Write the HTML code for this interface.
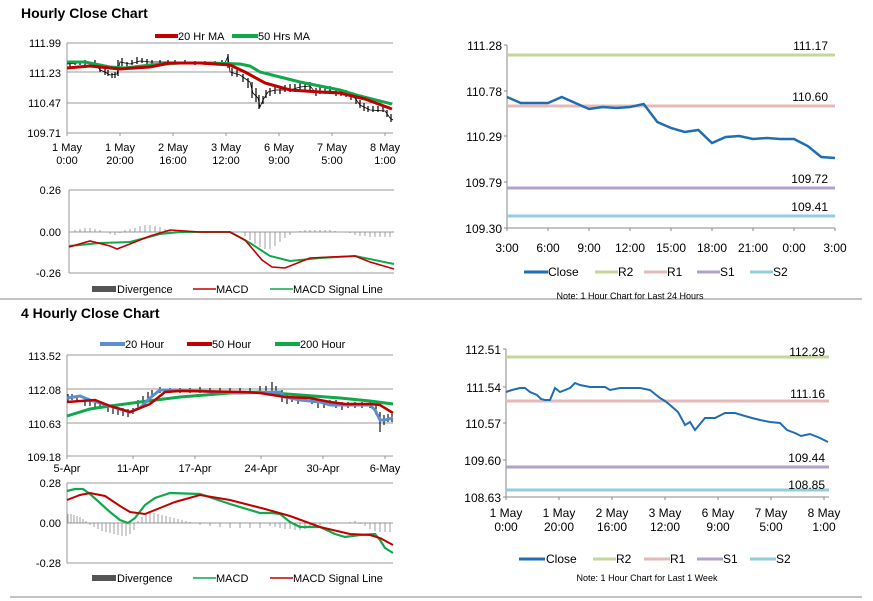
<!DOCTYPE html>
<html><head><meta charset="utf-8"><style>
html,body{margin:0;padding:0;background:#fff}
svg{display:block;font-family:"Liberation Sans",Arial,sans-serif}
</style></head><body>
<svg width="873" height="601" viewBox="0 0 873 601" xmlns="http://www.w3.org/2000/svg">
<g font-size="11" fill="#000">
<text x="21" y="18" font-size="14" font-weight="bold">Hourly Close Chart</text>
<text x="21" y="318" font-size="14" font-weight="bold">4 Hourly Close Chart</text>
<line x1="0" y1="299" x2="862" y2="299" stroke="#888" stroke-width="1"/>
<line x1="10" y1="597" x2="862" y2="597" stroke="#888" stroke-width="1"/>

<!-- ===== Top-left price ===== -->
<g stroke="#999" stroke-width="1">
<line x1="67" y1="43" x2="393" y2="43"/><line x1="67" y1="72" x2="393" y2="72"/><line x1="67" y1="103" x2="393" y2="103"/><line x1="67" y1="133" x2="393" y2="133"/>
<line x1="67" y1="43" x2="67" y2="136"/>
<line x1="120" y1="133" x2="120" y2="136"/><line x1="173" y1="133" x2="173" y2="136"/><line x1="226" y1="133" x2="226" y2="136"/><line x1="279" y1="133" x2="279" y2="136"/><line x1="332" y1="133" x2="332" y2="136"/><line x1="385" y1="133" x2="385" y2="136"/>
</g>
<g text-anchor="end"><text x="61" y="47">111.99</text><text x="61" y="77">111.23</text><text x="61" y="107">110.47</text><text x="61" y="137">109.71</text></g>
<g text-anchor="middle"><text x="67" y="151">1 May</text><text x="67" y="164">0:00</text><text x="120" y="151">1 May</text><text x="120" y="164">20:00</text><text x="173" y="151">2 May</text><text x="173" y="164">16:00</text><text x="226" y="151">3 May</text><text x="226" y="164">12:00</text><text x="279" y="151">6 May</text><text x="279" y="164">9:00</text><text x="332" y="151">7 May</text><text x="332" y="164">5:00</text><text x="385" y="151">8 May</text><text x="385" y="164">1:00</text></g>
<polyline fill="none" stroke="#000" stroke-width="0.8" points="67,64 80,63 95,63 100,70 105,72 110,75 117,74 120,62 130,64 140,61 150,62 165,62 180,62 200,63 225,63 228,56 230,72 240,75 250,82 253,93 258,98 260,107 263,100 268,92 275,90 290,90 300,87 310,86 315,92 330,91 345,93 355,98 360,105 370,110 385,111 390,118 393,120"/>
<path stroke="#000" stroke-width="1.2" d="M70 62v5M75 61v4M80 61v4M85 60v5M95 60v5M100 66v6M105 68v7M108 70v6M112 73v5M115 72v6M118 60v16M122 58v8M127 62v5M132 60v5M137 57v7M142 58v5M147 59v5M152 60v4M160 60v5M168 60v4M175 60v4M185 60v4M195 61v4M205 61v4M215 61v4M222 60v4M228 54v14M232 68v8M237 70v7M243 74v8M248 78v10M252 82v16M256 88v14M259 95v14M263 96v8M266 90v8M270 88v8M275 86v8M280 86v8M285 85v7M290 84v8M295 84v8M300 83v8M305 83v7M310 82v8M316 88v8M320 86v8M325 86v8M330 86v8M336 88v8M341 89v7M346 90v7M351 92v8M356 96v8M360 100v8M364 103v8M368 106v6M373 106v6M378 106v6M383 106v6M387 110v7M391 114v8"/>
<polyline fill="none" stroke="#0fa84a" stroke-width="3" points="67,62 85,62 110,67 125,68 150,65 180,63 210,63 240,64 250,66 260,72 300,82 340,90 360,96 392,104"/>
<polyline fill="none" stroke="#c00000" stroke-width="3" points="67,68 90,66 120,69 150,67 170,63 200,63 230,65 245,72 265,83 290,90 320,92 340,93 365,99 392,109"/>
<line x1="155" y1="36" x2="178" y2="36" stroke="#c00000" stroke-width="4"/><text x="178" y="40">20 Hr MA</text>
<line x1="232" y1="36" x2="258" y2="36" stroke="#0fa84a" stroke-width="4"/><text x="258" y="40">50 Hrs MA</text>

<!-- top-left MACD -->
<g stroke="#999" stroke-width="1"><line x1="69" y1="190" x2="394" y2="190"/><line x1="69" y1="273" x2="394" y2="273"/><line x1="69" y1="190" x2="69" y2="273"/><line x1="69" y1="232" x2="394" y2="232"/></g>
<g text-anchor="end"><text x="61" y="194">0.26</text><text x="61" y="236">0.00</text><text x="61" y="277">-0.26</text></g>
<g stroke="#888" stroke-width="0.8">
<path d="M75 232v-2M80 232v-3M85 232v-4M90 232v-4M95 232v-3M100 232v-2M110 232v2M115 232v3M120 232v1M125 232v-2M130 232v-3M135 232v-4M140 232v-6M145 232v-7M150 232v-7M155 232v-6M160 232v-5M165 232v-3M170 232v-2M175 232v-1M245 232v4M250 232v8M255 232v12M260 232v15M265 232v17M270 232v17M275 232v14M280 232v10M285 232v6M290 232v3M300 232v-1M305 232v-2M310 232v-2M315 232v-2M320 232v-2M325 232v-2M330 232v-2M335 232v-1M350 232v1M355 232v3M360 232v4M365 232v4M370 232v5M375 232v5M380 232v5M385 232v5M390 232v5"/>
</g>
<polyline fill="none" stroke="#0fa84a" stroke-width="2" points="69,246 100,243 130,242 160,234 180,232 230,232 250,243 270,256 290,261 320,258 355,256 394,264"/>
<polyline fill="none" stroke="#c00000" stroke-width="1.6" points="69,247 90,241 110,246 117,249 130,244 150,236 170,230 200,232 230,232 245,240 262,260 272,267 285,268 300,262 310,258 330,257 355,256 370,262 394,269"/>
<rect x="92" y="286" width="24" height="6" fill="#555"/><text x="117" y="293">Divergence</text>
<line x1="193" y1="289" x2="216" y2="289" stroke="#c00000" stroke-width="1.5"/><text x="216" y="293">MACD</text>
<line x1="270" y1="289" x2="293" y2="289" stroke="#0fa84a" stroke-width="1.5"/><text x="293" y="293">MACD Signal Line</text>

<!-- ===== Bottom-left price ===== -->
<g stroke="#999" stroke-width="1">
<line x1="67" y1="355" x2="393" y2="355"/><line x1="67" y1="389" x2="393" y2="389"/><line x1="67" y1="423" x2="393" y2="423"/><line x1="67" y1="456" x2="393" y2="456"/>
<line x1="67" y1="355" x2="67" y2="459"/>
<line x1="133" y1="456" x2="133" y2="459"/><line x1="195" y1="456" x2="195" y2="459"/><line x1="261" y1="456" x2="261" y2="459"/><line x1="323" y1="456" x2="323" y2="459"/><line x1="385" y1="456" x2="385" y2="459"/>
</g>
<g text-anchor="end"><text x="61" y="360">113.52</text><text x="61" y="394">112.08</text><text x="61" y="428">110.63</text><text x="61" y="461">109.18</text></g>
<g text-anchor="middle"><text x="67" y="472">5-Apr</text><text x="133" y="472">11-Apr</text><text x="195" y="472">17-Apr</text><text x="261" y="472">24-Apr</text><text x="323" y="472">30-Apr</text><text x="385" y="472">6-May</text></g>
<path stroke="#000" stroke-width="1.1" d="M68 394v8M72 394v6M77 396v6M85 398v8M90 400v6M95 401v6M100 402v6M108 404v8M113 406v8M118 407v8M123 408v8M128 409v8M133 408v6M138 400v10M143 396v8M148 392v8M152 390v6M160 387v6M170 388v5M180 388v5M190 388v5M200 387v6M210 388v5M220 388v5M230 388v5M240 388v5M250 388v5M260 386v6M266 386v6M272 382v10M276 386v10M282 390v12M287 394v10M292 396v6M298 396v8M305 396v6M312 398v6M318 400v8M324 400v8M330 400v6M336 400v8M342 402v8M348 402v6M355 402v6M362 402v6M370 402v6M376 405v10M380 412v20M384 415v10M388 414v8M392 414v8"/>
<polyline fill="none" stroke="#0fa84a" stroke-width="3" points="67,416 90,409 110,406 140,402 180,397 230,393 260,392 300,395 340,398 370,401 393,404"/>
<polyline fill="none" stroke="#5b8fcf" stroke-width="3" points="67,398 80,396 90,400 110,406 130,412 140,408 150,398 160,390 170,390 200,391 240,393 280,392 285,397 300,400 320,402 330,405 345,405 370,405 375,410 380,420 385,420 393,418"/>
<polyline fill="none" stroke="#c00000" stroke-width="2.5" points="67,402 95,400 110,406 130,412 150,404 165,392 180,391 245,392 260,393 285,397 310,398 330,402 345,404 370,404 380,405 393,413"/>
<line x1="100" y1="344" x2="125" y2="344" stroke="#5b8fcf" stroke-width="4"/><text x="125" y="348">20 Hour</text>
<line x1="187" y1="344" x2="212" y2="344" stroke="#c00000" stroke-width="4"/><text x="212" y="348">50 Hour</text>
<line x1="275" y1="344" x2="300" y2="344" stroke="#0fa84a" stroke-width="4"/><text x="300" y="348">200 Hour</text>

<!-- bottom-left MACD -->
<g stroke="#999" stroke-width="1"><line x1="67" y1="483" x2="393" y2="483"/><line x1="67" y1="563" x2="393" y2="563"/><line x1="67" y1="483" x2="67" y2="563"/><line x1="67" y1="523" x2="393" y2="523"/></g>
<g text-anchor="end"><text x="61" y="487">0.28</text><text x="61" y="527">0.00</text><text x="61" y="567">-0.28</text></g>
<g stroke="#888" stroke-width="0.8">
<path d="M68 523v-9M71 523v-9M74 523v-8M77 523v-7M80 523v-6M83 523v-4M86 523v-2M90 523v2M94 523v4M98 523v6M102 523v8M106 523v9M110 523v10M114 523v11M118 523v12M122 523v13M126 523v13M130 523v11M134 523v7M138 523v-2M142 523v-6M146 523v-9M150 523v-10M154 523v-10M158 523v-9M162 523v-8M166 523v-7M170 523v-6M174 523v-5M178 523v-4M182 523v-3M186 523v-2M190 523v-1M200 523v2M210 523v3M220 523v4M230 523v5M240 523v5M250 523v5M260 523v5M270 523v3M275 523v4M280 523v5M285 523v6M290 523v6M295 523v7M300 523v7M305 523v6M310 523v5M315 523v3M320 523v2M330 523v1M340 523v0M350 523v-1M355 523v-2M360 523v1M365 523v3M370 523v6M375 523v8M380 523v9M385 523v9M390 523v9"/>
</g>
<polyline fill="none" stroke="#0fa84a" stroke-width="2.2" points="67,491 75,489 83,489 90,494 100,503 110,512 120,520 128,523 135,518 145,505 155,498 170,493 200,494 230,504 260,513 272,513 280,514 290,522 300,527 320,527 335,534 345,537 360,535 375,534 380,540 385,548 393,553"/>
<polyline fill="none" stroke="#c00000" stroke-width="2" points="67,500 80,495 90,493 105,496 120,506 130,512 145,514 160,508 175,502 200,495 230,500 265,509 290,516 320,527 350,534 370,535 380,538 393,545"/>
<rect x="92" y="575" width="24" height="6" fill="#555"/><text x="117" y="582">Divergence</text>
<line x1="193" y1="578" x2="216" y2="578" stroke="#0fa84a" stroke-width="1.5"/><text x="216" y="582">MACD</text>
<line x1="270" y1="578" x2="293" y2="578" stroke="#c00000" stroke-width="1.5"/><text x="293" y="582">MACD Signal Line</text>

<!-- ===== Top-right ===== -->
<g stroke="#888" stroke-width="1">
<line x1="507" y1="45" x2="507" y2="230"/>
<path d="M504 45h3M504 91h3M504 136h3M504 182h3M504 228h3"/>
<line x1="507" y1="228" x2="835" y2="228"/>
<path d="M507 228v3M548 228v3M589 228v3M630 228v3M671 228v3M712 228v3M753 228v3M794 228v3M835 228v3"/>
</g>
<g text-anchor="end" font-size="12"><text x="502" y="50">111.28</text><text x="502" y="96">110.78</text><text x="502" y="141">110.29</text><text x="502" y="187">109.79</text><text x="502" y="233">109.30</text></g>
<g text-anchor="middle" font-size="12"><text x="507" y="252">3:00</text><text x="548" y="252">6:00</text><text x="589" y="252">9:00</text><text x="630" y="252">12:00</text><text x="671" y="252">15:00</text><text x="712" y="252">18:00</text><text x="753" y="252">21:00</text><text x="794" y="252">0:00</text><text x="835" y="252">3:00</text></g>
<line x1="507" y1="55" x2="835" y2="55" stroke="#c4d79b" stroke-width="3"/>
<line x1="507" y1="106" x2="835" y2="106" stroke="#e6b9b8" stroke-width="3"/>
<line x1="507" y1="188" x2="835" y2="188" stroke="#b3a2c7" stroke-width="3"/>
<line x1="507" y1="216" x2="835" y2="216" stroke="#93cddd" stroke-width="3"/>
<g text-anchor="end" font-size="12"><text x="828" y="50">111.17</text><text x="828" y="101">110.60</text><text x="828" y="183">109.72</text><text x="828" y="211">109.41</text></g>
<polyline fill="none" stroke="#1f6db3" stroke-width="2.5" points="507,97 520.7,103 534.3,103 548,103 561.7,97 575.3,103 589,109 602.7,107 616.3,108 630,107 643.7,104 657.3,122 671,128 684.7,132 698.3,130 712,143 725.7,137 739.3,136 753,139 766.7,138 780.3,139 794,139 807.7,146 821.3,157 835,158"/>
<g font-size="12">
<line x1="524" y1="272" x2="548" y2="272" stroke="#1f6db3" stroke-width="3"/><text x="548" y="276">Close</text>
<line x1="595" y1="272" x2="618" y2="272" stroke="#c4d79b" stroke-width="3"/><text x="618" y="276">R2</text>
<line x1="644" y1="272" x2="667" y2="272" stroke="#e6b9b8" stroke-width="3"/><text x="667" y="276">R1</text>
<line x1="697" y1="272" x2="720" y2="272" stroke="#b3a2c7" stroke-width="3"/><text x="720" y="276">S1</text>
<line x1="750" y1="272" x2="773" y2="272" stroke="#93cddd" stroke-width="3"/><text x="773" y="276">S2</text>
</g>
<text x="630" y="299" font-size="9" text-anchor="middle">Note: 1 Hour Chart for Last 24 Hours</text>

<!-- ===== Bottom-right ===== -->
<g stroke="#888" stroke-width="1">
<line x1="506" y1="349" x2="506" y2="500"/>
<path d="M503 349h3M503 387h3M503 423h3M503 460h3M503 497h3"/>
<line x1="506" y1="497" x2="829" y2="497"/>
<path d="M559 497v3M612 497v3M665 497v3M718 497v3M771 497v3M824 497v3"/>
</g>
<g text-anchor="end" font-size="12"><text x="501" y="354">112.51</text><text x="501" y="392">111.54</text><text x="501" y="428">110.57</text><text x="501" y="465">109.60</text><text x="501" y="502">108.63</text></g>
<g text-anchor="middle" font-size="12"><text x="506" y="517">1 May</text><text x="506" y="531">0:00</text><text x="559" y="517">1 May</text><text x="559" y="531">20:00</text><text x="612" y="517">2 May</text><text x="612" y="531">16:00</text><text x="665" y="517">3 May</text><text x="665" y="531">12:00</text><text x="718" y="517">6 May</text><text x="718" y="531">9:00</text><text x="771" y="517">7 May</text><text x="771" y="531">5:00</text><text x="824" y="517">8 May</text><text x="824" y="531">1:00</text></g>
<line x1="506" y1="357" x2="829" y2="357" stroke="#c4d79b" stroke-width="3"/>
<line x1="506" y1="401" x2="829" y2="401" stroke="#e6b9b8" stroke-width="3"/>
<line x1="506" y1="467" x2="829" y2="467" stroke="#b3a2c7" stroke-width="3"/>
<line x1="506" y1="490" x2="829" y2="490" stroke="#93cddd" stroke-width="3"/>
<g text-anchor="end" font-size="12"><text x="825" y="356">112.29</text><text x="825" y="398">111.16</text><text x="825" y="462">109.44</text><text x="825" y="489">108.85</text></g>
<polyline fill="none" stroke="#1f6db3" stroke-width="2" points="506,392 512,390 520,388 525,388 530,392 537,395 541,399 545,400 550,400 555,388 560,392 570,388 575,383 580,385 590,387 605,387 610,390 620,388 640,388 650,390 660,398 665,401 670,405 678,412 685,425 690,422 695,430 700,424 705,418 715,418 725,413 735,413 745,416 752,418 760,420 770,422 780,423 787,430 795,433 801,436 810,434 820,438 828,442"/>
<g font-size="12">
<line x1="519" y1="559" x2="545" y2="559" stroke="#1f6db3" stroke-width="3"/><text x="546" y="563">Close</text>
<line x1="593" y1="559" x2="616" y2="559" stroke="#c4d79b" stroke-width="3"/><text x="616" y="563">R2</text>
<line x1="644" y1="559" x2="670" y2="559" stroke="#e6b9b8" stroke-width="3"/><text x="670" y="563">R1</text>
<line x1="697" y1="559" x2="723" y2="559" stroke="#b3a2c7" stroke-width="3"/><text x="723" y="563">S1</text>
<line x1="750" y1="559" x2="776" y2="559" stroke="#93cddd" stroke-width="3"/><text x="776" y="563">S2</text>
</g>
<text x="647" y="581" font-size="9" text-anchor="middle">Note: 1 Hour Chart for Last 1 Week</text>
</g>
</svg>
</body></html>
